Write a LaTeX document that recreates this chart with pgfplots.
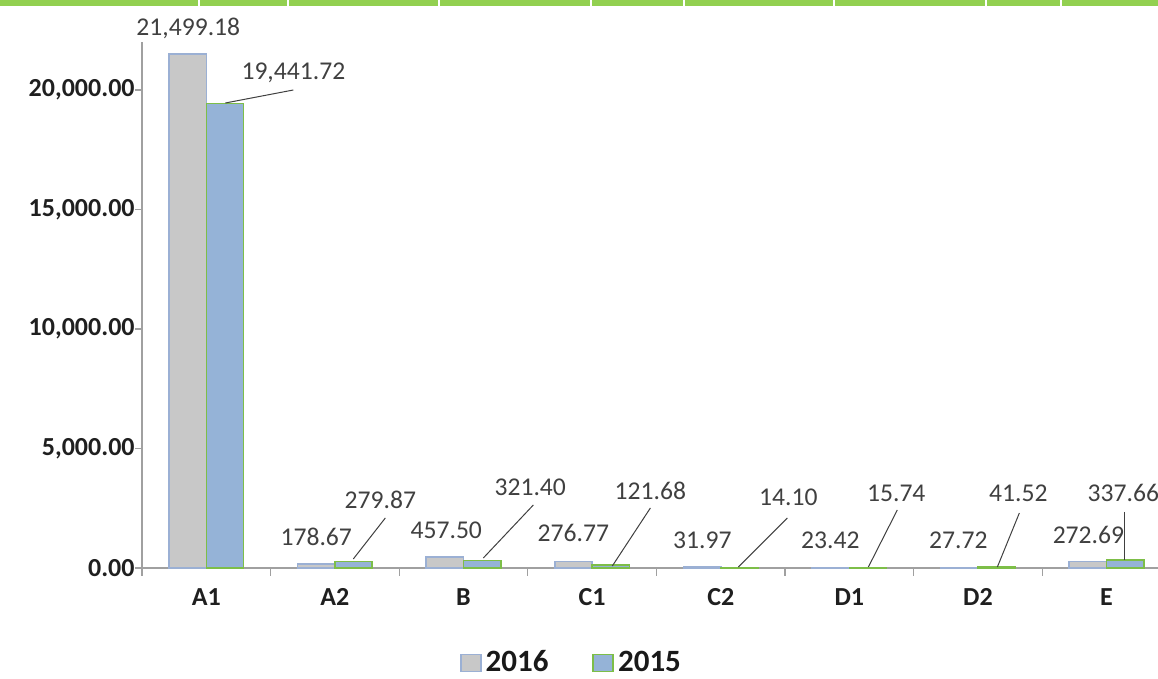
\documentclass[border=0pt]{standalone}
\usepackage{pgfplots}
\pgfplotsset{compat=1.18}
\usepackage{fontspec}
\setmainfont{Carlito}
\definecolor{gbar}{HTML}{C8C8C8}
\definecolor{gbord}{HTML}{9BB0D4}
\definecolor{bbar}{HTML}{95B3D7}
\definecolor{bbord}{HTML}{7DBE48}
\definecolor{txt}{HTML}{404040}
\definecolor{axc}{HTML}{A0A0A0}
\definecolor{strip}{HTML}{92D050}
\begin{document}
\begin{tikzpicture}
\useasboundingbox (0,0) rectangle (579pt,339.5pt);
\fill[strip] (0,336.5pt) rectangle (579pt,339.5pt);
\foreach \x in {99,143.5,219,295,341.5,416.5,492.5,530} \fill[white] (\x pt,336.5pt) rectangle ++(0.8pt,3pt);
\begin{axis}[
  at={(71pt,55.5pt)}, anchor=south west, scale only axis,
  width=508pt, height=262.9pt,
  xmin=-0.5, xmax=7.4, ymin=0, ymax=22000,
  clip=false, scaled y ticks=false,
  axis x line*=bottom, axis y line*=left,
  axis line style={draw=axc, line width=0.6pt},
  ybar=0pt, bar width=0.29,
  xtick={0,...,7}, xticklabels={A1,A2,B,C1,C2,D1,D2,E},
  major x tick style={draw=none},
  minor xtick={-0.5,0.5,1.5,2.5,3.5,4.5,5.5,6.5},
  tick align=outside, major tick length=3.5pt, minor tick length=4pt,
  tick style={draw=axc, line width=0.6pt},
  ytick={0,5000,10000,15000,20000},
  yticklabels={{0.00},{5,000.00},{10,000.00},{15,000.00},{20,000.00}},
  ticklabel style={font=\fontsize{13}{15}\selectfont\bfseries, text=black!88},
  yticklabel style={inner sep=0pt, xshift=0pt},
  xticklabel style={anchor=center, inner sep=0pt, yshift=-11pt},
  legend style={at={(0.4237,-0.18)}, anchor=center, draw=none, fill=none,
    legend columns=2, font=\fontsize{15.5}{18}\selectfont\bfseries, text=black!90,
    nodes={inner ysep=0.5pt},
    /tikz/every even column/.append style={column sep=20pt}},
]
\addplot[fill=gbar, draw=gbord, line width=0.8pt,
  /pgfplots/legend image code/.code={\draw[fill=gbar, draw=gbord, line width=0.8pt] (0pt,-4.5pt) rectangle (10pt,4pt);}]
  coordinates {(0,21499.18) (1,178.67) (2,457.50) (3,276.77) (4,31.97) (5,23.42) (6,27.72) (7,272.69)};
\addlegendentry{2016}
\addplot[fill=bbar, draw=bbord, line width=0.8pt,
  /pgfplots/legend image code/.code={\draw[fill=bbar, draw=bbord, line width=0.8pt] (0pt,-4.5pt) rectangle (10pt,4pt);}]
  coordinates {(0,19441.72) (1,279.87) (2,321.40) (3,121.68) (4,14.10) (5,15.74) (6,41.52) (7,337.66)};
\addlegendentry{2015}
% data labels 2016
\begin{scope}[every node/.style={font=\fontsize{12.8}{15}\selectfont, text=txt, inner sep=0pt}]
\node at (axis cs:-0.14,22594) {21,499.18};
\node at (axis cs:0.855,1297) {178.67};
\node at (axis cs:1.866,1590) {457.50};
\node at (axis cs:2.854,1464) {276.77};
\node at (axis cs:3.857,1172) {31.97};
\node at (axis cs:4.852,1172) {23.42};
\node at (axis cs:5.848,1172) {27.72};
\node at (axis cs:6.859,1381) {272.69};
% data labels 2015
\node at (axis cs:0.677,20711) {19,441.72};
\node at (axis cs:1.353,2845) {279.87};
\node at (axis cs:2.519,3389) {321.40};
\node at (axis cs:3.453,3222) {121.68};
\node at (axis cs:4.526,2971) {14.10};
\node at (axis cs:5.365,3138) {15.74};
\node at (axis cs:6.314,3138) {41.52};
\node at (axis cs:7.131,3138) {337.66};
\end{scope}
\begin{scope}[txt, line width=0.5pt]
\draw (axis cs:0.677,20000) -- (axis cs:0.148,19456);
\draw (axis cs:1.392,2092) -- (axis cs:1.143,377);
\draw (axis cs:2.543,2636) -- (axis cs:2.154,418);
\draw (axis cs:3.453,2510) -- (axis cs:3.157,84);
\draw (axis cs:4.518,2092) -- (axis cs:4.137,42);
\draw (axis cs:5.373,2427) -- (axis cs:5.148,42);
\draw (axis cs:6.322,2301) -- (axis cs:6.151,42);
\draw (axis cs:7.138,2343) -- (axis cs:7.138,335);
\end{scope}
\end{axis}
\end{tikzpicture}
\end{document}
